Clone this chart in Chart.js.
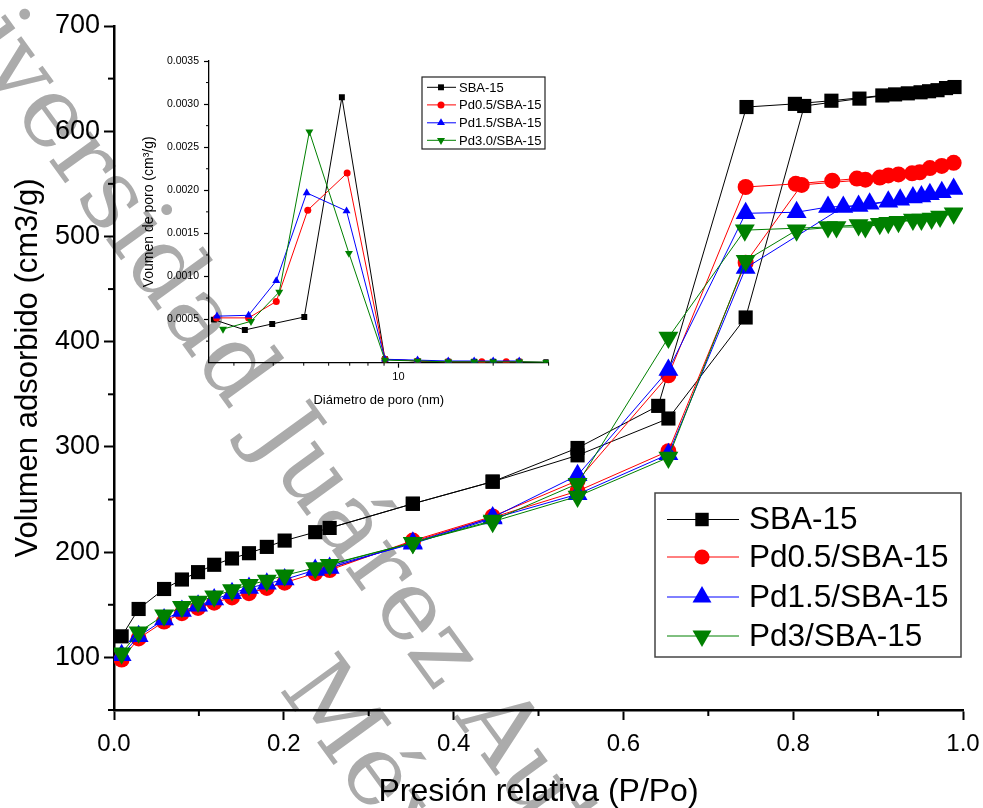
<!DOCTYPE html>
<html>
<head>
<meta charset="utf-8">
<script src="https://cdn.jsdelivr.net/npm/chart.js@4.4.1/dist/chart.umd.min.js"></script>
<style>
  html, body { margin: 0; padding: 0; background: #fff; }
  #wrap { position: relative; width: 983px; height: 808px; overflow: hidden; }
  #main { position: absolute; left: 0; top: 0; }
  #inset { position: absolute; left: 130px; top: 40px; }
</style>
</head>
<body>
<div id="wrap">
  <canvas id="main" width="983" height="808"></canvas>
  <canvas id="inset" width="430" height="380"></canvas>
</div>
<script>
// isotherms: adsorption branch followed by desorption branch (P/Po, cm3/g)
const sbaP = [0.009, 0.029, 0.059, 0.080, 0.099, 0.118, 0.139, 0.159, 0.180, 0.201, 0.237, 0.352, 0.446, 0.546, 0.653, 0.744, 0.813, 0.878, 0.92, 0.95, 0.97, 0.99,
  0.98, 0.96, 0.935, 0.905, 0.845, 0.802, 0.745, 0.641, 0.546, 0.446, 0.352, 0.254];
const sbaV = [120, 146, 165, 174, 181, 188, 194, 199, 205, 211, 219, 246, 267, 292, 327, 423, 624, 631, 635, 637, 639, 642,
  641, 638, 636, 634, 629, 626, 623, 339, 299, 267, 246, 223];

const pd05P = [0.009, 0.029, 0.059, 0.080, 0.099, 0.118, 0.139, 0.159, 0.180, 0.201, 0.237, 0.352, 0.446, 0.546, 0.653, 0.744, 0.81, 0.885, 0.912, 0.94, 0.961, 0.989,
  0.975, 0.949, 0.924, 0.902, 0.875, 0.846, 0.803, 0.744, 0.653, 0.546, 0.446, 0.352, 0.254];
const pd05V = [98, 118, 134, 142, 147, 152, 157, 161, 166, 171, 180, 210, 233, 258, 296, 475, 549, 554, 558, 560, 565, 570,
  567, 561, 559, 556, 555, 553, 550, 547, 368, 268, 234, 211, 183];

const pd15P = [0.009, 0.029, 0.059, 0.080, 0.099, 0.118, 0.139, 0.159, 0.180, 0.201, 0.237, 0.352, 0.446, 0.546, 0.653, 0.744, 0.859, 0.890, 0.926, 0.951, 0.975, 0.989,
  0.961, 0.941, 0.912, 0.877, 0.841, 0.804, 0.744, 0.653, 0.546, 0.446, 0.352, 0.254];
const pd15V = [102, 120, 136, 144, 149, 155, 161, 166, 170, 174, 183, 208, 232, 255, 293, 470, 528, 531, 535, 538, 542, 545,
  540, 537, 533, 529, 528, 523, 522, 373, 273, 233, 209, 185];

const pd3P = [0.009, 0.029, 0.059, 0.080, 0.099, 0.118, 0.139, 0.159, 0.180, 0.201, 0.237, 0.352, 0.446, 0.546, 0.653, 0.744, 0.804, 0.851, 0.885, 0.912, 0.941, 0.963, 0.989,
  0.973, 0.951, 0.924, 0.902, 0.877, 0.841, 0.743, 0.653, 0.546, 0.446, 0.352, 0.254];
const pd3V = [104, 124, 140, 148, 153, 158, 164, 169, 173, 178, 185, 209, 229, 253, 290, 477, 506, 509, 509, 513, 516, 517, 522,
  519, 516, 514, 512, 511, 509, 506, 404, 265, 230, 209, 188];

// inset: pore size distribution (nm, cm3/g)
const sbaDia = [2.59, 3.25, 3.97, 5.02, 6.61, 9.06, 11.5, 14.4, 17.4, 20.0, 24.2, 29.5];
const sbaPore = [0.00050, 0.00038, 0.00045, 0.00053, 0.00308, 0.00004, 0.00002, 0.00001, 0.00001, 0.00001, 0.00001, 0.000005];
const pd05Dia = [2.64, 3.34, 4.09, 5.15, 6.87, 9.06, 11.5, 14.4, 18.4, 22.0, 24.2];
const pd05Pore = [0.00052, 0.00052, 0.00071, 0.00177, 0.00220, 0.00004, 0.00002, 0.00001, 0.00001, 0.00001, 0.00001];
const pd15Dia = [2.65, 3.34, 4.09, 5.11, 6.84, 9.06, 11.5, 14.4, 17.4, 20.0, 24.2];
const pd15Pore = [0.00054, 0.00055, 0.00095, 0.00197, 0.00176, 0.00004, 0.00003, 0.00002, 0.00002, 0.00002, 0.00002];
const pd30Dia = [2.77, 3.40, 4.18, 5.21, 6.96, 9.06, 11.5, 14.4, 17.4, 20.0, 24.2, 29.5];
const pd30Pore = [0.00039, 0.00048, 0.00082, 0.00268, 0.00127, 0.00003, 0.00002, 0.00001, 0.00001, 0.00001, 0.00001, 0.000005];

const xTicks = [0, 0.2, 0.4, 0.6, 0.8, 1.0];
const xMinor = [0.1, 0.3, 0.5, 0.7, 0.9];
const yTicks = [100, 200, 300, 400, 500, 600, 700];
const yMinor = [50, 150, 250, 350, 450, 550, 650];
const insetXTicks = [10];
const insetXMinor = [3, 4, 5, 6, 7, 8, 9, 20, 30];
const insetYTicks = [0.0005, 0.0010, 0.0015, 0.0020, 0.0025, 0.0030, 0.0035];
const insetYMinor = [0.00025, 0.00075, 0.00125, 0.00175, 0.00225, 0.00275, 0.00325];

const FONT = '"Liberation Sans", Arial, sans-serif';
Chart.defaults.font.family = FONT;
Chart.defaults.color = '#000';

function pts(xs, ys) {
  return xs.map((x, i) => ({ x: x, y: ys[i] }));
}

function marker(ctx, style, rot, x, y, r, color) {
  ctx.save();
  ctx.fillStyle = color;
  ctx.beginPath();
  if (style === 'rect') {
    const s = r * Math.SQRT1_2;
    ctx.rect(x - s, y - s, 2 * s, 2 * s);
  } else if (style === 'circle') {
    ctx.arc(x, y, r, 0, 2 * Math.PI);
  } else {
    let a = rot * Math.PI / 180;
    for (let k = 0; k < 3; k++) {
      const px = x + Math.sin(a) * r, py = y - Math.cos(a) * r;
      if (k) ctx.lineTo(px, py); else ctx.moveTo(px, py);
      a += 2 * Math.PI / 3;
    }
    ctx.closePath();
  }
  ctx.fill();
  ctx.restore();
}

function drawWatermark(ctx) {
  const line1 = 'Universidad Juárez Autónoma de Tabasco';
  const line2 = 'México';
  const fam = '"DejaVu Serif", serif';
  ctx.save();
  ctx.font = '100px ' + fam;
  const w = s => ctx.measureText(s).width;
  const c1 = w('Universidad J') + w('u') / 2;
  const c2 = w('Universidad Juárez A') + w('u') / 2;
  const size = 100 * 380 / (c2 - c1);
  const k = size / 100;
  ctx.font = size + 'px ' + fam;
  ctx.fillStyle = '#ababab';
  ctx.translate(312, 478);
  ctx.rotate(54 * Math.PI / 180);
  ctx.fillText(line1, -c1 * k, 0.27 * size);
  ctx.fillText(line2, 200 - ctx.measureText('M').width / 2, 116 + 0.36 * size);
  ctx.restore();
}

const pageBg = {
  id: 'pageBg',
  beforeDraw(chart) {
    const ctx = chart.ctx;
    ctx.save();
    ctx.fillStyle = '#fff';
    ctx.fillRect(0, 0, chart.width, chart.height);
    ctx.restore();
    drawWatermark(ctx);
  }
};

const minorTicks = {
  id: 'minorTicks',
  afterDraw(chart, args, o) {
    const ctx = chart.ctx;
    const xs = chart.scales.x, ys = chart.scales.y;
    ctx.save();
    ctx.strokeStyle = '#000';
    ctx.lineWidth = o.width;
    o.x.forEach(v => {
      const px = xs.getPixelForValue(v);
      ctx.beginPath();
      ctx.moveTo(px, xs.top);
      ctx.lineTo(px, xs.top + o.len);
      ctx.stroke();
    });
    o.y.forEach(v => {
      const py = ys.getPixelForValue(v);
      ctx.beginPath();
      ctx.moveTo(ys.right, py);
      ctx.lineTo(ys.right - o.len, py);
      ctx.stroke();
    });
    ctx.restore();
  }
};

const boxLegend = {
  id: 'boxLegend',
  afterDraw(chart, args, o) {
    const ctx = chart.ctx;
    const b = o.box;
    ctx.save();
    ctx.fillStyle = '#fff';
    ctx.fillRect(b[0], b[1], b[2], b[3]);
    ctx.strokeStyle = o.boxColor;
    ctx.lineWidth = o.boxWidth;
    ctx.strokeRect(b[0], b[1], b[2], b[3]);
    ctx.font = o.font + 'px ' + FONT;
    ctx.textBaseline = 'middle';
    ctx.textAlign = 'left';
    chart.data.datasets.forEach((ds, i) => {
      const y = o.rows[i];
      ctx.strokeStyle = ds.borderColor;
      ctx.lineWidth = ds.borderWidth;
      ctx.beginPath();
      ctx.moveTo(o.x1, y);
      ctx.lineTo(o.x2, y);
      ctx.stroke();
      marker(ctx, ds.pointStyle, ds.pointRotation || 0, o.mx, y, ds.pointRadius * o.scale, ds.backgroundColor);
      ctx.fillStyle = '#000';
      ctx.fillText(ds.label, o.tx, y + 1);
    });
    ctx.restore();
  }
};

function series(label, xs, ys, color, style, rot, r, order, lw) {
  return {
    label: label,
    data: pts(xs, ys),
    showLine: true,
    borderColor: color,
    backgroundColor: color,
    borderWidth: lw,
    pointStyle: style,
    pointRotation: rot,
    pointRadius: r,
    pointBorderWidth: 0,
    order: order
  };
}

const axisGrid = (len, w) => ({ display: true, drawOnChartArea: false, drawTicks: true, tickLength: len, tickWidth: w, tickColor: '#000' });

// keep the plot area where the reference has it: no extra room for end labels
const fitX = h => s => { s.height = h; s.paddingLeft = 0; s.paddingRight = 0; };
const fitY = w => s => { s.width = w; s.paddingTop = 0; s.paddingBottom = 0; };

new Chart(document.getElementById('main'), {
  type: 'scatter',
  data: {
    datasets: [
      series('SBA-15', sbaP, sbaV, '#000000', 'rect', 0, 10, 4, 1),
      series('Pd0.5/SBA-15', pd05P, pd05V, '#ff0000', 'circle', 0, 8, 3, 1),
      series('Pd1.5/SBA-15', pd15P, pd15V, '#0000ff', 'triangle', 0, 11.5, 2, 1),
      series('Pd3/SBA-15', pd3P, pd3V, '#008000', 'triangle', 180, 11.5, 1, 1)
    ]
  },
  options: {
    responsive: false,
    animation: false,
    events: [],
    layout: { padding: { top: 26, right: 20, bottom: 0, left: 0 } },
    plugins: {
      legend: { display: false },
      tooltip: { enabled: false },
      minorTicks: { x: xMinor, y: yMinor, len: 6, width: 2 },
      boxLegend: {
        box: [655, 493, 306, 164], boxColor: '#444', boxWidth: 1.5,
        rows: [519.5, 557, 597, 636], x1: 667, x2: 739, mx: 702, tx: 749,
        font: 31.5, scale: 0.95
      }
    },
    scales: {
      x: {
        type: 'linear',
        min: 0, max: 1,
        afterBuildTicks: s => { s.ticks = xTicks.map(v => ({ value: v })); },
        afterFit: fitX(98),
        ticks: { font: { size: 24 }, padding: 10, maxRotation: 0, autoSkip: false, callback: v => v.toFixed(1) },
        grid: axisGrid(10, 2),
        border: { display: true, color: '#000', width: 2.5 },
        title: { display: true, text: 'Presión relativa (P/Po)', font: { size: 32, lineHeight: 1 }, padding: { top: 0, bottom: 0 } }
      },
      y: {
        type: 'linear',
        min: 50, max: 700,
        afterBuildTicks: s => { s.ticks = yTicks.map(v => ({ value: v })); },
        afterFit: fitY(114),
        ticks: { font: { size: 27 }, padding: 4, callback: v => String(v) },
        grid: axisGrid(10, 2),
        border: { display: true, color: '#000', width: 2.5 },
        title: { display: true, text: 'Volumen adsorbido (cm3/g)', font: { size: 31 }, padding: { top: 9.4, bottom: 0 } }
      }
    }
  },
  plugins: [pageBg, minorTicks, boxLegend]
});

new Chart(document.getElementById('inset'), {
  type: 'scatter',
  data: {
    datasets: [
      series('SBA-15', sbaDia, sbaPore, '#000000', 'rect', 0, 4.2, 4, 1),
      series('Pd0.5/SBA-15', pd05Dia, pd05Pore, '#ff0000', 'circle', 0, 3.5, 3, 1),
      series('Pd1.5/SBA-15', pd15Dia, pd15Pore, '#0000ff', 'triangle', 0, 4.6, 2, 1),
      series('Pd3.0/SBA-15', pd30Dia, pd30Pore, '#008000', 'triangle', 180, 4.6, 1, 1)
    ]
  },
  options: {
    responsive: false,
    animation: false,
    events: [],
    layout: { padding: { top: 21, right: 11.4, bottom: 0, left: 0 } },
    plugins: {
      legend: { display: false },
      tooltip: { enabled: false },
      minorTicks: { x: insetXMinor, y: insetYMinor, len: 3, width: 1 },
      boxLegend: {
        box: [292, 37, 123, 72], boxColor: '#222', boxWidth: 1.2,
        rows: [47.3, 64.9, 82.8, 100.3], x1: 297, x2: 326, mx: 311, tx: 329,
        font: 13, scale: 1
      }
    },
    scales: {
      x: {
        type: 'logarithmic',
        min: 2.5, max: 30,
        afterBuildTicks: s => { s.ticks = insetXTicks.map(v => ({ value: v })); },
        afterFit: fitX(57.3),
        ticks: { font: { size: 11 }, padding: 3, maxRotation: 0, autoSkip: false, callback: v => String(v) },
        grid: axisGrid(5, 1.2),
        border: { display: true, color: '#000', width: 1.3 },
        title: { display: true, text: 'Diámetro de poro (nm)', font: { size: 13 }, padding: { top: 0, bottom: 12.2 } }
      },
      y: {
        type: 'linear',
        min: 0, max: 0.0035,
        afterBuildTicks: s => { s.ticks = insetYTicks.map(v => ({ value: v })); },
        afterFit: fitY(79),
        ticks: { font: { size: 10.5 }, padding: 5, callback: v => v.toFixed(4) },
        grid: axisGrid(5, 1.2),
        border: { display: true, color: '#000', width: 1.3 },
        title: { display: true, text: 'Voumen de poro (cm³/g)', font: { size: 14 }, padding: { top: 10.6, bottom: 0 } }
      }
    }
  },
  plugins: [minorTicks, boxLegend]
});
</script>
</body>
</html>
